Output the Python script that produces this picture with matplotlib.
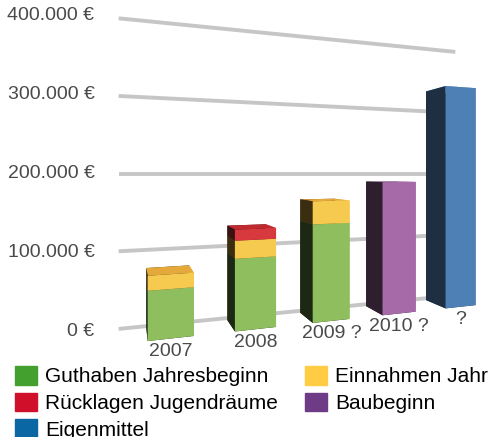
import numpy as np
import matplotlib.pyplot as plt
from matplotlib.patches import Patch

plt.rcParams['font.family'] = ['Liberation Sans', 'DejaVu Sans']

categories = ['2007', '2008', '2009 ?', '2010 ?', '?']
guthaben = [60000, 92000, 132000, 0, 0]
einnahmen = [18000, 23000, 31000, 0, 0]
ruecklagen = [0, 14000, 0, 0, 0]
baubeginn = [0, 0, 0, 188000, 0]
eigenmittel = [0, 0, 0, 0, 330000]
ticks = [0, 100000, 200000, 300000, 400000]
tick_labels = ['0 €', '100.000 €', '200.000 €', '300.000 €', '400.000 €']

# name, values, front, side, top, legend colour
series = [
    ('Guthaben Jahresbeginn', guthaben, '#8fbe5e', '#1c2813', '#a6cf78', '#43a02e'),
    ('Einnahmen Jahr', einnahmen, '#f6c94f', '#3a2d10', '#e5a83a', '#ffcc44'),
    ('Rücklagen Jugendräume', ruecklagen, '#d8393e', '#3a1212', '#c02a2e', '#d0102a'),
    ('Baubeginn', baubeginn, '#a66aa8', '#2d1f2e', '#c08ec0', '#6e3c86'),
    ('Eigenmittel', eigenmittel, '#4e7fb5', '#1d2f41', '#6f98c4', '#0a67a3'),
]

zoom = 0.984
fig = plt.figure(figsize=(4.89, 4.37), dpi=100)
# big square axes so the 3d box is not clipped
ax = fig.add_axes([-0.052, -0.0551, 1.145, 1.281], projection='3d')
ax.set_proj_type('persp', focal_length=0.1428)
ax.view_init(elev=0, azim=-107)
ax.set_xlim(-2.0, 4.46)
ax.set_ylim(0, 1)
ax.set_zlim(0, 400000)
ax.set_box_aspect((6.56, 1, 3.8), zoom=zoom)
ax.set_axis_off()
ax.computed_zorder = False

wall = 0.5
for t, lab in zip(ticks, tick_labels):
    ax.plot([-0.555, 4.3], [wall, wall], [t, t], color='#c6c6c6', lw=2.8, zorder=1)
    ax.text(-0.85, wall, t, lab, ha='right', va='center', fontsize=14, color='#4a4a4a')

w, d = 0.515, 0.42
xs, ys, zs, dzs, cols = [], [], [], [], []
for i in range(len(categories)):
    base = 0
    for name, vals, front, side, top, leg in series:
        v = vals[i]
        if v == 0:
            continue
        xs.append(i - w / 2)
        ys.append(0)
        zs.append(base)
        dzs.append(v)
        # faces: -z, +z, -y, +y, -x, +x
        cols += [side, top, front, side, side, front]
        base += v

ax.bar3d(xs, ys, zs, w, d, dzs, color=cols, shade=False, zorder=2)

for i, c in enumerate(categories):
    ax.text(i, 0, -6000, c, ha='center', va='top', fontsize=14, color='#4a4a4a')

handles = [Patch(color=s[5]) for s in series]
labels = [s[0] for s in series]
order = [0, 2, 4, 1, 3]
fig.legend([handles[k] for k in order], [labels[k] for k in order], ncol=2,
           loc='upper left', bbox_to_anchor=(15 / 489, 1 - 366 / 437), frameon=False,
           fontsize=15, handlelength=1.05, handleheight=1.0, handletextpad=0.4,
           labelspacing=0.3, columnspacing=1.3, borderpad=0, borderaxespad=0)

fig.savefig('out.png', dpi=100)
